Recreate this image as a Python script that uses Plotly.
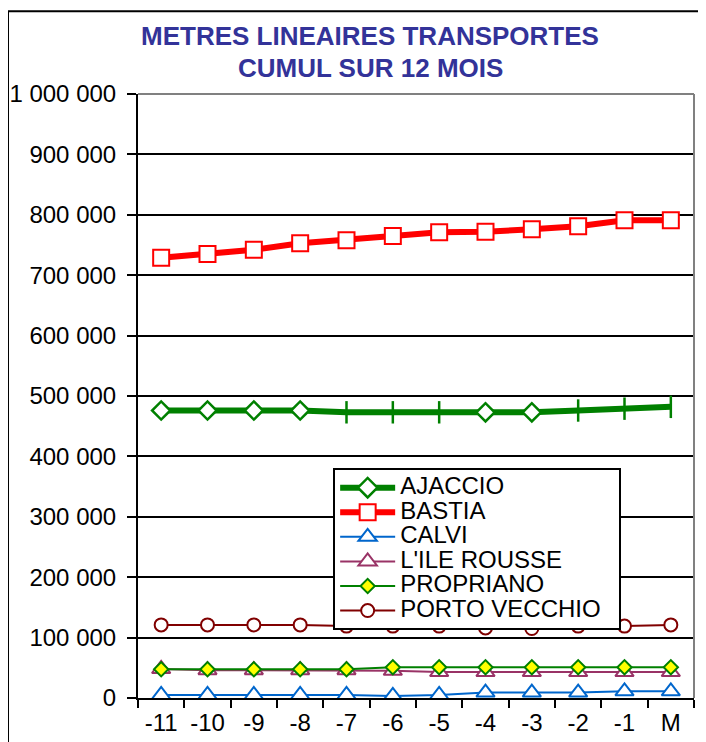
import plotly.graph_objects as go

categories = ["-11", "-10", "-9", "-8", "-7", "-6", "-5", "-4", "-3", "-2", "-1", "M"]
y_ticks = [0, 100000, 200000, 300000, 400000, 500000, 600000, 700000, 800000, 900000, 1000000]

ajaccio = [476000, 476000, 476000, 476000, 473000, 473000, 473000, 473000, 473000, 476000, 479000, 482000]
ajaccio_symbols = ["diamond", "diamond", "diamond", "diamond", "line-ns", "line-ns", "line-ns",
                   "diamond", "diamond", "line-ns", "line-ns", "line-ns"]
bastia = [729000, 735000, 742000, 753000, 758000, 765000, 771000, 772000, 776000, 781000, 791000, 791000]
calvi = [5000, 5000, 5000, 5000, 5000, 3500, 5000, 9000, 9000, 9000, 11000, 11000]
ile_rousse = [48000, 46000, 46000, 46000, 46000, 45000, 43000, 43000, 43000, 43000, 43000, 43000]
propriano = [47500, 47500, 47500, 47500, 47500, 51000, 51000, 51000, 51000, 51000, 51000, 51000]
porto_vecchio = [121000, 121000, 121000, 121000, 119000, 119000, 119000, 116000, 115000, 119000, 119000, 121000]

FONT = "Liberation Sans, Arial, sans-serif"


def lname(t, pad=""):
    return "<span style='font-size:24px'>" + t + pad + "</span>"


fig = go.Figure()

aj_sizes = [14 if s == "diamond" else 16 for s in ajaccio_symbols]

fig.add_trace(go.Scatter(
    x=categories, y=ajaccio, name=lname("AJACCIO"), mode="lines+markers",
    line=dict(color="#008000", width=6),
    marker=dict(symbol=ajaccio_symbols, size=aj_sizes, color="white", opacity=1,
                line=dict(color="#008000", width=2.5)),
))
fig.add_trace(go.Scatter(
    x=categories, y=bastia, name=lname("BASTIA"), mode="lines+markers",
    line=dict(color="#FF0000", width=6),
    marker=dict(symbol="square", size=16, color="white", line=dict(color="#FF0000", width=2)),
))
fig.add_trace(go.Scatter(
    x=categories, y=calvi, name=lname("CALVI"), mode="lines+markers",
    line=dict(color="#0066CC", width=2),
    marker=dict(symbol="triangle-up", size=16, color="white", line=dict(color="#0066CC", width=2)),
))
fig.add_trace(go.Scatter(
    x=categories, y=ile_rousse, name=lname("L'ILE ROUSSE"), mode="lines+markers",
    line=dict(color="#993366", width=2),
    marker=dict(symbol="triangle-up", size=16, color="white", line=dict(color="#993366", width=2)),
))
fig.add_trace(go.Scatter(
    x=categories, y=propriano, name=lname("PROPRIANO"), mode="lines+markers",
    line=dict(color="#008000", width=2),
    marker=dict(symbol="diamond", size=11, color="#FFFF00", line=dict(color="#008000", width=2)),
))
fig.add_trace(go.Scatter(
    x=categories, y=porto_vecchio, name=lname("PORTO VECCHIO", "&nbsp;&nbsp;"), mode="lines+markers",
    line=dict(color="#800000", width=2),
    marker=dict(symbol="circle", size=13, color="white", line=dict(color="#800000", width=2)),
))

fig.update_layout(
    width=706, height=742,
    margin=dict(l=130, r=20, t=85.5, b=51.5, autoexpand=False),
    paper_bgcolor="white", plot_bgcolor="white",
    separators=", ",
    font=dict(family=FONT, color="black", size=24),
    showlegend=True,
    legend=dict(
        x=0.351, y=0.3802, xanchor="left", yanchor="top",
        bgcolor="white", bordercolor="black", borderwidth=2,
        font=dict(family=FONT, size=16.6, color="black"),
        itemwidth=55, tracegroupgap=0, traceorder="normal",
    ),
    xaxis=dict(
        type="category", range=[-0.5, 11.5], automargin=False,
        showline=True, linecolor="black", linewidth=2,
        ticks="outside", tickson="boundaries", ticklen=8, tickwidth=2, tickcolor="black",
        showgrid=False, zeroline=False, ticklabelstandoff=2,
        tickfont=dict(family=FONT, size=24, color="black"),
    ),
    yaxis=dict(
        range=[0, 1000000], tickvals=y_ticks, tickformat=",d", automargin=False,
        showline=True, linecolor="black", linewidth=2,
        ticks="outside", ticklen=9, tickwidth=2, tickcolor="black",
        showgrid=True, gridcolor="black", gridwidth=1.5, zeroline=False,
        ticklabelstandoff=6,
        tickfont=dict(family=FONT, size=24, color="black"),
    ),
    annotations=[
        dict(text="<b>METRES LINEAIRES TRANSPORTES</b>", xref="paper", yref="paper",
             x=0.4175, y=1.0967, xanchor="center", yanchor="middle", showarrow=False,
             font=dict(family=FONT, size=26, color="#333399")),
        dict(text="<b>CUMUL SUR 12 MOIS</b>", xref="paper", yref="paper",
             x=0.4175, y=1.043, xanchor="center", yanchor="middle", showarrow=False,
             font=dict(family=FONT, size=26, color="#333399")),
    ],
    shapes=[
        dict(type="rect", xref="paper", yref="paper", x0=-0.2338, y0=-0.2, x1=1.2, y1=1.1372,
             line=dict(color="black", width=2), layer="below"),
        dict(type="line", xref="paper", yref="paper", x0=0, y0=1, x1=1, y1=1,
             line=dict(color="#808080", width=2), layer="above"),
        dict(type="line", xref="paper", yref="paper", x0=1, y0=0, x1=1, y1=1,
             line=dict(color="#808080", width=2), layer="above"),
    ],
)

fig.write_html("out.html")
